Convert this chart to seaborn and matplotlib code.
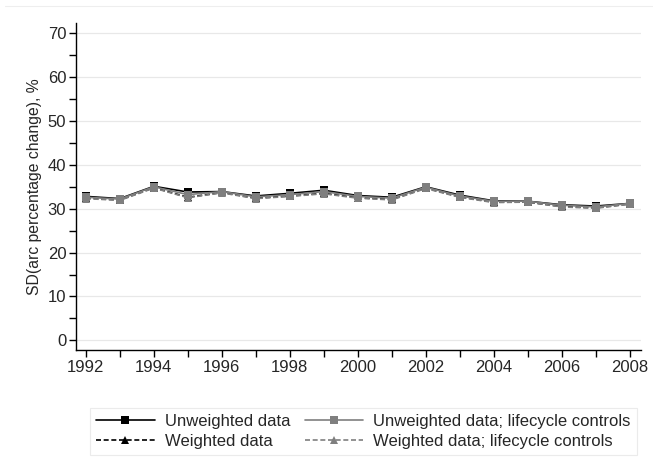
import numpy as np
import pandas as pd
import matplotlib
matplotlib.use("Agg")
import matplotlib.pyplot as plt
from matplotlib.lines import Line2D
from matplotlib.ticker import MultipleLocator
import seaborn as sns

# values
years = list(range(1992, 2009))
unweighted = [32.8, 32.3, 35.1, 33.8, 33.9, 32.9, 33.5, 34.2, 33.0, 32.6, 35.0, 33.1, 31.8, 31.7, 30.9, 30.6, 31.2]
weighted = [32.4, 32.0, 34.8, 32.6, 33.7, 32.4, 32.9, 33.5, 32.5, 32.1, 34.7, 32.7, 31.5, 31.5, 30.5, 30.2, 31.1]
unweighted_lc = [32.6, 32.2, 35.0, 33.2, 33.9, 32.7, 33.2, 33.9, 32.8, 32.4, 34.9, 32.9, 31.7, 31.7, 30.8, 30.4, 31.2]
weighted_lc = [32.3, 31.9, 34.7, 32.5, 33.6, 32.3, 32.8, 33.4, 32.4, 32.0, 34.6, 32.6, 31.4, 31.5, 30.4, 30.1, 31.0]

labels = ["Unweighted data", "Weighted data",
          "Unweighted data; lifecycle controls", "Weighted data; lifecycle controls"]

df = pd.concat([
    pd.DataFrame({"year": years, "sd": vals, "series": lab})
    for vals, lab in zip([unweighted, weighted, unweighted_lc, weighted_lc], labels)
])

sns.set_style("white")
plt.rcParams['font.family'] = ['Liberation Sans', 'DejaVu Sans']

fig = plt.figure(figsize=(6.53, 4.70), dpi=100)
ax = fig.add_axes([0.1164, 0.2553, 0.865, 0.6957])

palette = {labels[0]: "black", labels[1]: "black", labels[2]: "#7f7f7f", labels[3]: "#7f7f7f"}
dashes = {labels[0]: "", labels[1]: (3, 1.6), labels[2]: "", labels[3]: (3, 1.6)}
markers = {labels[0]: "s", labels[1]: "^", labels[2]: "s", labels[3]: "^"}

sns.lineplot(data=df, x="year", y="sd", hue="series", style="series",
             palette=palette, dashes=dashes, markers=markers, markersize=6,
             markeredgewidth=0, linewidth=1.2, ax=ax, legend=False)

ax.set_xlim(1991.71, 2008.33)
ax.set_ylim(-2.2, 72.3)
ax.xaxis.set_major_locator(MultipleLocator(2))
ax.xaxis.set_minor_locator(MultipleLocator(1))
ax.yaxis.set_major_locator(MultipleLocator(10))
ax.yaxis.set_minor_locator(MultipleLocator(5))
ax.tick_params(axis="both", which="both", direction="out", length=5, width=1,
               color="black", labelsize=12, pad=2, bottom=True, left=True)
ax.grid(True, axis="y", which="major", color="#e8e8e8", linewidth=0.9)
ax.set_axisbelow(True)

for s in ["top", "right"]:
    ax.spines[s].set_visible(False)
for s in ["left", "bottom"]:
    ax.spines[s].set_color("black")
    ax.spines[s].set_linewidth(1)

ax.set_xlabel("")
ax.set_ylabel("SD(arc percentage change), %", fontsize=11.3, labelpad=4)

handles = [Line2D([], [], color=palette[l], linestyle="-" if dashes[l] == "" else (0, dashes[l]),
                  marker=markers[l], markersize=5.5, markeredgewidth=0, linewidth=1.2)
           for l in labels]
leg = fig.legend(handles, labels,
                 ncol=2, loc="center", bbox_to_anchor=(0.5567, 0.082),
                 fontsize=12, handlelength=3.5, frameon=True, fancybox=False,
                 edgecolor="#e6e6e6", borderpad=0.35, labelspacing=0.3,
                 columnspacing=0.9, handletextpad=0.6, borderaxespad=0)
leg.get_frame().set_linewidth(0.8)

fig.add_artist(Line2D([0.008, 1.0], [0.988, 0.988], transform=fig.transFigure,
                      color="#eeeeee", linewidth=0.8))

fig.savefig("out.png", dpi=100)
